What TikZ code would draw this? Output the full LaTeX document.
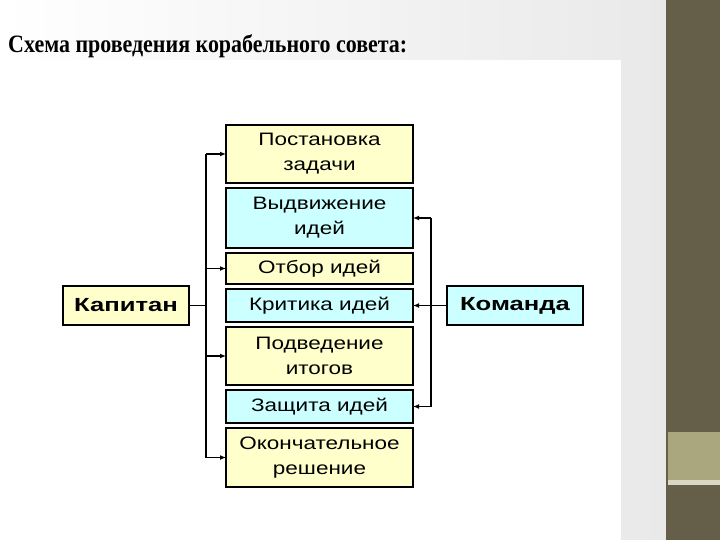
\documentclass[tikz,border=0pt]{standalone}
\usepackage{fontspec}
\usepackage{graphicx}
\usetikzlibrary{positioning,arrows.meta}
\newfontfamily\titlefont{Liberation Serif}
\newfontfamily\boxfont[FakeStretch=1.25]{Liberation Sans}
\newfontfamily\headfont[FakeStretch=1.35]{Liberation Sans}
\definecolor{boxyellow}{HTML}{FFFFCC}
\definecolor{boxcyan}{HTML}{CCFFFF}
\definecolor{bardark}{HTML}{655E49}
\definecolor{barolive}{HTML}{AAA67E}
\definecolor{barline}{HTML}{D9D7C6}
\definecolor{pagegray}{HTML}{E9E9E9}
\begin{document}
\begin{tikzpicture}[x=1pt,y=-1pt]

			\tikzstyle{stage}=[draw=black,line width=1.3pt,
				inner sep=0pt,outer sep=0pt,minimum width=187pt,
				align=center,font=\boxfont\fontsize{18}{25}\selectfont]
			\tikzstyle{yellowstage}=[stage,fill=boxyellow]
			\tikzstyle{cyanstage}=[stage,fill=boxcyan]
			\tikzstyle{party}=[draw=black,line width=1.3pt,
				inner sep=0pt,outer sep=0pt,minimum height=39pt,
				font=\headfont\bfseries\fontsize{19}{22}\selectfont]
			\tikzstyle{link}=[line width=1.2pt]
			\tikzstyle{arrow}=[link,-{Latex[length=6pt,width=5pt]}]

			% background
			\useasboundingbox (0,0) rectangle (720,540);
			\shade[left color=white,right color=pagegray] (0,0) rectangle (666,540);
			\fill[white] (0,60) rectangle (621,540);
			\fill[bardark] (666,0) rectangle (720,540);
			\fill[barolive] (668,432) rectangle (720,480);
			\fill[barline] (668,480) rectangle (720,485);

			\node[anchor=base west,inner sep=0pt,
				font=\titlefont\bfseries\fontsize{25}{28}\selectfont]
				(title) at (8,53) {\resizebox{399pt}{\height}{Схема проведения корабельного совета:}};

			\node[yellowstage,minimum height=58pt,anchor=north]	(s1) at (319.5,125)	{Постановка\\задачи};
			\node[cyanstage,minimum height=60pt,below=5pt of s1]	(s2)	{Выдвижение\\идей};
			\node[yellowstage,minimum height=31pt,below=5pt of s2]	(s3)	{Отбор идей};
			\node[cyanstage,minimum height=33pt,below=5pt of s3]	(s4)	{Критика идей};
			\node[yellowstage,minimum height=58pt,below=5pt of s4]	(s5)	{Подведение\\итогов};
			\node[cyanstage,minimum height=33pt,below=5pt of s5]	(s6)	{Защита идей};
			\node[yellowstage,minimum height=59pt,below=5pt of s6]	(s7)	{Окончательное\\решение};

			\node[party,fill=boxyellow,minimum width=126pt,left=37pt of s4]	(captain)	{Капитан};
			\node[party,fill=boxcyan,minimum width=136pt,right=34pt of s4]	(crew)	{Команда};

			\coordinate (leftbus) at (206,0);
			\coordinate (rightbus) at (431,0);

			% captain side
			\draw[link] (captain.east) -- (captain.east -| leftbus);
			\draw[link] (s1.west -| leftbus) -- (s7.west -| leftbus);
			\foreach \i in {1,3,5,7}
				\draw[arrow] (s\i.west -| leftbus) -- (s\i.west);

			% crew side
			\draw[link] (crew.west) -- (crew.west -| rightbus);
			\draw[link] (s2.east -| rightbus) -- (s6.east -| rightbus);
			\foreach \i in {2,4,6}
				\draw[arrow] (s\i.east -| rightbus) -- (s\i.east);

\end{tikzpicture}
\end{document}
